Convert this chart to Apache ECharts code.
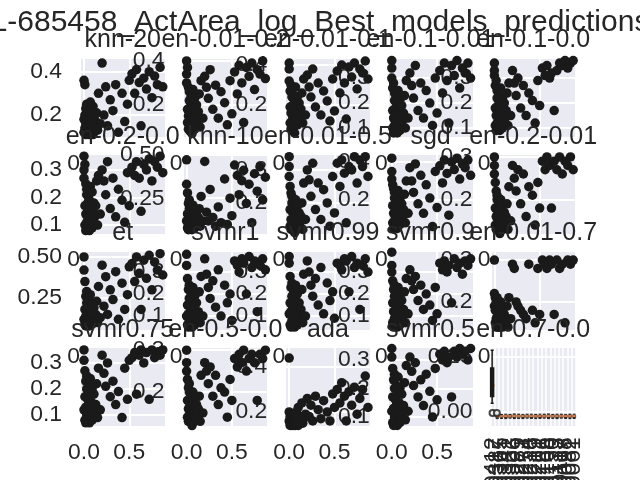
<!DOCTYPE html>
<html>
<head>
<meta charset="utf-8">
<script src="https://cdn.jsdelivr.net/npm/echarts@6/dist/echarts.min.js"></script>
<style>
html, body { margin: 0; padding: 0; background: #fff; }
#chart { width: 640px; height: 480px; }
</style>
</head>
<body>
<div id="chart"></div>
<script>
// figure title and one title per panel
const suptitle = 'L-685458_ActArea_log_Best_models_predictions';
const modelNames = [
    'knn-20', 'en-0.01-0.2', 'en-0.01-0.1', 'en-0.1-0.01', 'en-0.1-0.0',
    'en-0.2-0.0', 'knn-10', 'en-0.01-0.5', 'sgd', 'en-0.2-0.01',
    'et', 'svmr1', 'svmr0.99', 'svmr0.9', 'en-0.01-0.7',
    'svmr0.75', 'en-0.5-0.0', 'ada', 'svmr0.5', 'en-0.7-0.0'
];

// x of every scatter panel
const actual = [0.00,0.00,0.00,0.01,0.01,0.01,0.02,0.02,0.02,0.03,0.03,0.03,0.04,0.04,0.04,0.05,0.05,0.05,0.06,0.06,0.07,0.07,0.08,0.08,0.09,0.09,0.10,0.10,0.11,0.12,0.13,0.14,0.15,0.16,0.18,
    0.20,0.22,0.24,0.26,0.29,0.32,0.35,0.38,0.42,0.45,0.48,0.50,
    0.53,0.56,0.58,0.61,0.63,0.66,0.69,0.72,0.75,0.78,0.81,0.84,0.87];

// predictions, one array per model
const knn20 = [0.36,0.12,0.18,0.34,0.14,0.20,0.11,0.16,0.23,0.13,0.19,0.25,0.12,0.15,0.21,0.17,0.11,0.14,0.22,0.18,0.13,0.26,0.16,0.12,0.20,0.15,0.24,0.11,0.19,0.14,0.17,0.21,0.13,0.30,0.16,
    0.44,0.20,0.33,0.15,0.27,0.22,0.34,0.12,0.30,0.17,0.25,0.36,
    0.39,0.30,0.41,0.35,0.15,0.37,0.32,0.40,0.28,0.38,0.34,0.42,0.33];
const en001_02 = [0.40,0.34,0.30,0.37,0.12,0.18,0.28,0.09,0.15,0.22,0.11,0.26,0.08,0.19,0.13,0.24,0.10,0.16,0.21,0.07,0.14,0.27,0.12,0.18,0.09,0.23,0.15,0.11,0.20,0.13,0.17,0.25,0.10,0.31,0.14,
    0.33,0.28,0.23,0.36,0.18,0.29,0.14,0.26,0.21,0.11,0.31,0.16,
    0.35,0.25,0.38,0.30,0.12,0.37,0.33,0.39,0.27,0.36,0.34,0.40,0.32];
const en001_01 = [0.41,0.32,0.38,0.27,0.11,0.19,0.30,0.08,0.16,0.24,0.12,0.28,0.07,0.20,0.14,0.25,0.09,0.17,0.22,0.06,0.15,0.29,0.13,0.19,0.10,0.24,0.16,0.12,0.21,0.14,0.18,0.26,0.11,0.33,0.15,
    0.35,0.29,0.24,0.38,0.19,0.31,0.15,0.27,0.22,0.12,0.33,0.17,
    0.37,0.26,0.40,0.31,0.13,0.39,0.34,0.41,0.28,0.38,0.36,0.42,0.33];
const en01_001 = [0.37,0.30,0.34,0.26,0.10,0.17,0.28,0.08,0.14,0.21,0.11,0.24,0.09,0.18,0.13,0.22,0.10,0.15,0.20,0.08,0.14,0.25,0.12,0.17,0.09,0.21,0.15,0.11,0.19,0.13,0.16,0.23,0.10,0.29,0.14,
    0.32,0.27,0.22,0.35,0.17,0.28,0.14,0.25,0.20,0.11,0.30,0.16,
    0.33,0.24,0.36,0.29,0.12,0.35,0.31,0.37,0.26,0.34,0.32,0.36,0.30];
const en01_00 = [0.36,0.31,0.33,0.27,0.11,0.18,0.29,0.09,0.15,0.22,0.12,0.25,0.10,0.19,0.14,0.23,0.11,0.16,0.21,0.09,0.15,0.26,0.13,0.18,0.10,0.22,0.16,0.12,0.20,0.14,0.17,0.24,0.11,0.28,0.15,
    0.33,0.28,0.23,0.30,0.18,0.27,0.15,0.24,0.21,0.12,0.29,0.19,
    0.34,0.31,0.35,0.30,0.32,0.17,0.33,0.36,0.35,0.37,0.34,0.36,0.37];
const en02_00 = [0.35,0.30,0.27,0.32,0.10,0.17,0.25,0.08,0.14,0.21,0.11,0.23,0.09,0.18,0.13,0.20,0.10,0.15,0.19,0.08,0.14,0.24,0.12,0.16,0.09,0.22,0.15,0.11,0.18,0.13,0.17,0.26,0.10,0.28,0.14,
    0.30,0.26,0.21,0.33,0.16,0.27,0.13,0.23,0.19,0.11,0.29,0.17,
    0.31,0.28,0.33,0.27,0.15,0.32,0.30,0.34,0.26,0.33,0.31,0.35,0.29];
const knn10 = [0.47,0.33,0.12,0.28,0.08,0.16,0.22,0.07,0.13,0.19,0.10,0.24,0.08,0.15,0.11,0.20,0.09,0.14,0.17,0.07,0.12,0.21,0.10,0.15,0.08,0.18,0.13,0.10,0.16,0.11,0.14,0.19,0.09,0.26,0.12,
    0.46,0.17,0.12,0.30,0.14,0.09,0.20,0.11,0.36,0.10,0.25,0.15,
    0.44,0.38,0.27,0.35,0.41,0.22,0.33,0.11,0.39,0.29,0.43,0.24,0.37];
const en001_05 = [0.34,0.31,0.28,0.25,0.13,0.18,0.23,0.12,0.15,0.20,0.13,0.22,0.12,0.17,0.14,0.19,0.12,0.16,0.18,0.11,0.14,0.21,0.13,0.16,0.12,0.19,0.15,0.13,0.17,0.14,0.16,0.20,0.12,0.26,0.15,
    0.30,0.27,0.22,0.32,0.18,0.26,0.15,0.24,0.20,0.13,0.28,0.17,
    0.32,0.25,0.33,0.29,0.14,0.31,0.30,0.34,0.26,0.33,0.31,0.34,0.28];
const sgd = [0.42,0.35,0.31,0.28,0.08,0.17,0.26,0.05,0.13,0.21,0.09,0.24,0.06,0.18,0.11,0.22,0.07,0.15,0.19,0.05,0.12,0.25,0.10,0.16,0.07,0.20,0.14,0.09,0.18,0.11,0.15,0.23,0.08,0.30,0.13,
    0.37,0.30,0.24,0.39,0.18,0.33,0.13,0.28,0.21,0.06,0.35,0.16,
    0.38,0.29,0.41,0.34,0.12,0.40,0.36,0.42,0.31,0.39,0.37,0.41,0.33];
const en02_001 = [0.30,0.28,0.26,0.24,0.14,0.18,0.22,0.13,0.16,0.20,0.14,0.21,0.13,0.17,0.15,0.19,0.13,0.16,0.18,0.12,0.15,0.20,0.14,0.17,0.13,0.19,0.16,0.14,0.17,0.15,0.16,0.19,0.13,0.23,0.15,
    0.28,0.25,0.22,0.27,0.19,0.26,0.16,0.23,0.21,0.14,0.24,0.18,
    0.29,0.27,0.30,0.28,0.18,0.29,0.27,0.30,0.26,0.29,0.28,0.30,0.27];
const et = [0.50,0.42,0.12,0.35,0.09,0.18,0.26,0.08,0.14,0.22,0.11,0.29,0.09,0.17,0.12,0.24,0.10,0.15,0.20,0.08,0.13,0.27,0.11,0.16,0.09,0.21,0.14,0.10,0.19,0.12,0.15,0.23,0.10,0.32,0.13,
    0.45,0.20,0.38,0.15,0.30,0.24,0.41,0.12,0.34,0.18,0.27,0.44,
    0.46,0.35,0.50,0.40,0.18,0.48,0.37,0.51,0.30,0.47,0.42,0.52,0.39];
const svmr1 = [0.38,0.33,0.10,0.27,0.06,0.15,0.22,0.05,0.11,0.18,0.08,0.24,0.06,0.14,0.09,0.20,0.07,0.12,0.17,0.05,0.10,0.23,0.08,0.13,0.06,0.19,0.11,0.07,0.16,0.09,0.12,0.21,0.07,0.28,0.10,
    0.36,0.29,0.23,0.18,0.26,0.14,0.31,0.10,0.24,0.16,0.20,0.08,
    0.35,0.33,0.30,0.36,0.34,0.20,0.37,0.32,0.35,0.12,0.33,0.36,0.31];
const svmr099 = [0.37,0.34,0.11,0.28,0.06,0.16,0.23,0.05,0.12,0.19,0.08,0.25,0.06,0.14,0.10,0.21,0.07,0.13,0.18,0.05,0.10,0.24,0.08,0.14,0.06,0.20,0.12,0.07,0.16,0.09,0.13,0.22,0.07,0.29,0.10,
    0.35,0.30,0.24,0.19,0.27,0.15,0.32,0.11,0.25,0.17,0.21,0.09,
    0.34,0.33,0.31,0.36,0.35,0.21,0.37,0.32,0.34,0.13,0.33,0.36,0.30];
const svmr09 = [0.39,0.30,0.33,0.26,0.07,0.16,0.22,0.05,0.12,0.19,0.09,0.24,0.06,0.15,0.10,0.20,0.07,0.13,0.18,0.05,0.11,0.23,0.08,0.14,0.06,0.19,0.12,0.08,0.17,0.10,0.13,0.21,0.07,0.27,0.11,
    0.31,0.26,0.22,0.28,0.17,0.24,0.13,0.20,0.15,0.08,0.23,0.11,
    0.34,0.31,0.35,0.30,0.33,0.16,0.36,0.32,0.34,0.29,0.35,0.33,0.36];
const en001_07 = [0.30,0.22,0.19,0.21,0.15,0.18,0.20,0.14,0.16,0.19,0.15,0.21,0.14,0.17,0.15,0.18,0.14,0.16,0.17,0.14,0.15,0.20,0.15,0.17,0.14,0.18,0.16,0.15,0.17,0.15,0.16,0.19,0.14,0.21,0.16,
    0.29,0.28,0.20,0.19,0.18,0.17,0.16,0.29,0.18,0.15,0.28,0.17,
    0.30,0.29,0.28,0.30,0.29,0.17,0.30,0.28,0.29,0.15,0.30,0.29,0.30];
const svmr075 = [0.35,0.31,0.12,0.27,0.08,0.17,0.23,0.07,0.13,0.20,0.10,0.25,0.08,0.16,0.11,0.21,0.09,0.14,0.19,0.07,0.12,0.24,0.10,0.15,0.08,0.20,0.13,0.09,0.18,0.11,0.14,0.22,0.09,0.28,0.12,
    0.33,0.26,0.21,0.30,0.17,0.23,0.14,0.19,0.09,0.28,0.16,0.31,
    0.32,0.34,0.18,0.33,0.35,0.30,0.34,0.16,0.35,0.32,0.34,0.33,0.35];
const en05_00 = [0.30,0.27,0.25,0.23,0.14,0.18,0.21,0.13,0.16,0.20,0.14,0.22,0.13,0.17,0.15,0.19,0.13,0.16,0.18,0.12,0.15,0.20,0.14,0.17,0.13,0.19,0.16,0.14,0.17,0.15,0.16,0.19,0.13,0.24,0.15,
    0.27,0.25,0.22,0.26,0.19,0.24,0.17,0.21,0.20,0.14,0.23,0.18,
    0.28,0.26,0.29,0.27,0.30,0.25,0.28,0.29,0.27,0.18,0.29,0.28,0.30];
const ada = [0.44,0.20,0.16,0.15,0.18,0.14,0.17,0.15,0.19,0.16,0.14,0.18,0.15,0.17,0.16,0.14,0.19,0.15,0.17,0.16,0.14,0.18,0.15,0.20,0.16,0.17,0.14,0.22,0.15,0.18,0.16,0.24,0.15,0.17,0.19,
    0.26,0.18,0.23,0.16,0.27,0.21,0.17,0.25,0.20,0.16,0.28,0.22,
    0.30,0.24,0.33,0.27,0.16,0.29,0.23,0.31,0.19,0.26,0.30,0.36,0.22];
const svmr05 = [0.34,0.31,0.12,0.27,0.08,0.17,0.23,0.07,0.13,0.20,0.10,0.25,0.08,0.16,0.11,0.21,0.09,0.14,0.19,0.07,0.12,0.24,0.10,0.15,0.08,0.20,0.13,0.09,0.18,0.11,0.14,0.22,0.09,0.28,0.12,
    0.31,0.26,0.21,0.29,0.17,0.23,0.14,0.25,0.19,0.10,0.27,0.16,
    0.32,0.30,0.33,0.29,0.31,0.17,0.33,0.31,0.34,0.32,0.33,0.30,0.34];

const predictions = [knn20, en001_02, en001_01, en01_001, en01_00,
    en02_00, knn10, en001_05, sgd, en02_001,
    et, svmr1, svmr099, svmr09, en001_07,
    svmr075, en05_00, ada, svmr05];

// last panel (en-0.7-0.0): box per category [min, q1, median, q3, max]
const en07Cats = ['-0.0412','-0.0387','-0.0365','-0.0341','-0.0322','-0.0306','-0.0289','-0.0271','-0.0254','-0.0238',
    '-0.0219','-0.0201','-0.0186','-0.0168','-0.0150','-0.0133','-0.0117','-0.0098','-0.0082','-0.0061'];
const en07Boxes = [
    [0.04, 0.07, 0.12, 0.20, 0.28], [-0.030, -0.025, -0.019, -0.014, -0.010],
    [-0.029, -0.024, -0.019, -0.015, -0.011], [-0.030, -0.025, -0.018, -0.014, -0.010],
    [-0.028, -0.024, -0.019, -0.015, -0.011], [-0.030, -0.025, -0.018, -0.013, -0.009],
    [-0.029, -0.024, -0.019, -0.014, -0.010], [-0.030, -0.025, -0.018, -0.014, -0.011],
    [-0.028, -0.024, -0.019, -0.015, -0.010], [-0.029, -0.025, -0.018, -0.014, -0.010],
    [-0.030, -0.024, -0.019, -0.014, -0.011], [-0.029, -0.025, -0.018, -0.015, -0.010],
    [-0.028, -0.024, -0.019, -0.014, -0.010], [-0.030, -0.025, -0.018, -0.013, -0.009],
    [-0.029, -0.024, -0.019, -0.014, -0.011], [-0.030, -0.025, -0.018, -0.014, -0.010],
    [-0.028, -0.024, -0.019, -0.015, -0.010], [-0.029, -0.025, -0.018, -0.014, -0.011],
    [-0.030, -0.024, -0.019, -0.014, -0.010], [-0.029, -0.025, -0.018, -0.015, -0.010]
];
const en07Fliers = [[0, -0.004], [1, -0.004]];

// axis ranges and tick steps
const xRange = [-0.044, 0.9];
const xStep = 0.5;
const yMin = [0.094, 0.05, 0.035, 0.06, 0.06, 0.066, 0.043, 0.105, 0.019, 0.118,
    0.05, 0.033, 0.033, 0.033, 0.131, 0.053, 0.116, 0.132, 0.064, -0.069];
const yMax = [0.465, 0.415, 0.437, 0.382, 0.382, 0.358, 0.503, 0.348, 0.442, 0.307,
    0.54, 0.398, 0.398, 0.398, 0.323, 0.362, 0.308, 0.49, 0.346, 0.296];
const yStep = [0.2, 0.2, 0.2, 0.1, 0.1, 0.1, 0.25, 0.1, 0.2, 0.1,
    0.25, 0.1, 0.1, 0.1, 0.1, 0.1, 0.1, 0.2, 0.1, 0.25];

const FONT = '"Liberation Sans", Arial, sans-serif';
const INK = '#262626';
const TICK_SIZE = 22.9;

const left0 = 80, top0 = 57.6, cellW = 85.5, cellH = 80.4, stepX = 102.6, stepY = 96.4;

function onStep(v, step) {
    return Math.abs(v / step - Math.round(v / step)) < 1e-6;
}

let grids = [], xAxes = [], yAxes = [], series = [], titles = [];

titles.push({
    text: suptitle, left: 320, top: 8, textAlign: 'center', textVerticalAlign: 'top', padding: 0,
    textStyle: {fontFamily: FONT, fontSize: 30, fontWeight: 'normal', color: INK}
});

modelNames.forEach((name, i) => {
    let r = Math.floor(i / 5), c = i % 5;
    let gl = left0 + c * stepX, gt = top0 + r * stepY;
    grids.push({
        left: gl, top: gt, width: cellW, height: cellH,
        outerBoundsMode: 'none', containLabel: false,
        show: true, backgroundColor: '#eaeaf2', borderWidth: 0
    });
    titles.push({
        text: name, left: gl + cellW / 2, top: gt - 29.5, textAlign: 'center', textVerticalAlign: 'top', padding: 0,
        textStyle: {fontFamily: FONT, fontSize: 25, fontWeight: 'normal', color: INK}
    });

    let step = yStep[i];
    let digits = step === 0.25 ? 2 : 1;
    yAxes.push({
        type: 'value', gridIndex: i, min: yMin[i], max: yMax[i],
        minInterval: step, maxInterval: step,
        axisLine: {show: false}, axisTick: {show: false},
        splitLine: {show: true, lineStyle: {color: '#ffffff', width: 2}},
        axisLabel: {
            color: INK, fontFamily: FONT, fontSize: TICK_SIZE, margin: 18,
            formatter: v => onStep(v, step) ? v.toFixed(digits) : ''
        }
    });

    if (i < 19) {
        let labelOpt = r < 3
            ? {formatter: v => Math.abs(v) < 1e-9 ? '0' : '', align: 'right', padding: [0, 4, 0, 0]}
            : {formatter: v => onStep(v, xStep) ? v.toFixed(1) : ''};
        xAxes.push({
            type: 'value', gridIndex: i, min: xRange[0], max: xRange[1],
            minInterval: xStep, maxInterval: xStep,
            axisLine: {show: false}, axisTick: {show: false},
            splitLine: {show: true, lineStyle: {color: '#ffffff', width: 2}},
            axisLabel: Object.assign({color: INK, fontFamily: FONT, fontSize: TICK_SIZE, margin: 14}, labelOpt)
        });
        series.push({
            type: 'scatter', xAxisIndex: i, yAxisIndex: i,
            symbolSize: 9.5,
            itemStyle: {color: '#1a1a1a', opacity: 1},
            data: actual.map((x, k) => [x, predictions[i][k]])
        });
    } else {
        xAxes.push({
            type: 'category', gridIndex: i, data: en07Cats, boundaryGap: true,
            axisLine: {show: false}, axisTick: {show: false},
            splitLine: {show: true, interval: 0, lineStyle: {color: '#ffffff', width: 1.5}},
            axisLabel: {interval: 0, rotate: 90, color: INK, fontFamily: FONT, fontSize: TICK_SIZE, margin: 10}
        });
        series.push({
            type: 'scatter', xAxisIndex: i, yAxisIndex: i,
            symbol: 'rect', symbolSize: [4, 2.5],
            itemStyle: {color: '#dd8452'},
            data: en07Boxes.map((b, k) => [k, b[2]])
        });
        series.push({
            type: 'boxplot', xAxisIndex: i, yAxisIndex: i,
            boxWidth: [3, 3],
            itemStyle: {color: '#1a1a1a', borderColor: '#1a1a1a', borderWidth: 1.5},
            data: en07Boxes.slice(0, 1)
        });
        series.push({
            type: 'boxplot', xAxisIndex: i, yAxisIndex: i,
            boxWidth: [3, 3], z: 1,
            itemStyle: {color: 'transparent', borderColor: '#1a1a1a', borderWidth: 1},
            data: en07Boxes.map((b, k) => k === 0 ? '-' : b)
        });
        series.push({
            type: 'scatter', xAxisIndex: i, yAxisIndex: i,
            symbol: 'emptyCircle', symbolSize: 6,
            itemStyle: {color: '#1a1a1a', borderWidth: 1},
            data: en07Fliers
        });
    }
});

let chart = echarts.init(document.getElementById('chart'));
chart.setOption({
    animation: false,
    backgroundColor: '#ffffff',
    title: titles,
    grid: grids,
    xAxis: xAxes,
    yAxis: yAxes,
    series: series
});
</script>
</body>
</html>
